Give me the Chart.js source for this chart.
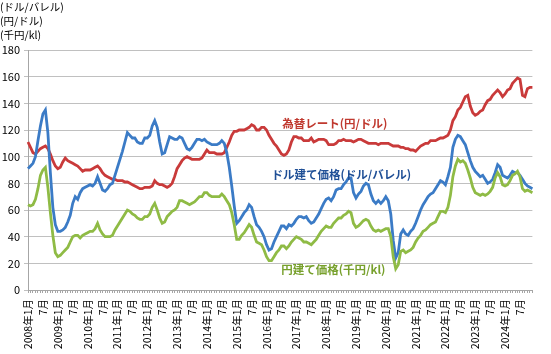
<!DOCTYPE html>
<html>
<head>
<meta charset="utf-8">
<script src="https://cdn.jsdelivr.net/npm/chart.js@4/dist/chart.umd.min.js"></script>
<style>
  html, body { margin: 0; padding: 0; background: #fff; }
  #wrap { width: 551px; height: 354px; }
</style>
</head>
<body>
<div id="wrap"><canvas id="chartOil" width="551" height="354"></canvas></div>
<script>
/* 原油価格・為替レートの推移 */

const years = [2008, 2009, 2010, 2011, 2012, 2013, 2014, 2015, 2016, 2017, 2018, 2019, 2020, 2021, 2022, 2023, 2024];

// ドル建て価格 (ドル/バレル)
const usdPrice = [
  91, 93, 95, 100, 112, 123, 132, 135, 118, 88, 62, 49,
  44, 44, 45, 47, 51, 56, 65, 70, 68, 73, 76, 77,
  78, 79, 78, 80, 85, 80, 75, 74, 76, 79, 80, 86,
  92, 98, 104, 111, 118, 116, 114, 114, 111, 110, 110, 114,
  114, 116, 123, 127, 122, 111, 102, 103, 109, 115, 114, 113,
  113, 115, 114, 110, 106, 105, 107, 110, 113, 113, 112, 113,
  111, 110, 109, 109, 109, 110, 112, 110, 103, 92, 78, 63,
  50, 52, 55, 58, 60, 64, 62, 55, 49, 47, 44, 40,
  34, 30, 31, 36, 40, 44, 48, 48, 46, 49, 48, 50,
  53, 55, 55, 54, 55, 52, 50, 51, 54, 57, 61, 65,
  68, 69, 67, 70, 75, 76, 76, 79, 81, 84, 84, 73,
  69, 72, 74, 78, 80, 79, 72, 67, 65, 67, 65, 67,
  70, 67, 57, 37, 24, 28, 42, 45, 42, 41, 44, 46,
  50, 55, 60, 64, 67, 70, 72, 73, 76, 79, 82, 81,
  79, 85, 92, 107, 113, 116, 115, 112, 109, 103, 97, 92,
  89, 87, 85, 86, 83, 80, 81, 83, 88, 94, 92, 86,
  85, 84, 86, 89, 88, 88, 86, 83, 80, 78, 77, 76,
];

// 為替レート (円/ドル)
const fxRate = [
  111, 107, 103, 102, 104, 106, 107, 108, 106, 102, 97, 93,
  91, 92, 96, 99, 97, 96, 95, 94, 93, 91, 89, 90,
  90, 90, 91, 92, 93, 91, 88, 86, 85, 84, 83, 83,
  82, 82, 82, 81, 81, 80, 79, 78, 77, 76, 76, 77,
  77, 77, 78, 82, 80, 79, 79, 78, 77, 78, 80, 85,
  91, 94, 97, 99, 100, 99, 98, 98, 98, 98, 99, 102,
  105, 103, 103, 103, 102, 102, 102, 103, 107, 111, 116, 119,
  119, 120, 120, 120, 121, 122, 124, 123, 120, 120, 122, 122,
  120, 116, 113, 110, 108, 105, 102, 101, 102, 105, 111, 115,
  115, 114, 114, 112, 112, 112, 114, 111, 112, 113, 113, 113,
  112, 109, 109, 109, 110, 112, 112, 113, 112, 112, 112, 111,
  112, 113, 113, 112, 111, 110, 110, 110, 110, 109, 110, 110,
  110, 110, 109, 108, 108, 108, 107, 107, 106, 106, 105, 105,
  104, 106, 108, 109, 110, 110, 112, 112, 112, 113, 114, 114,
  115, 116, 120, 127, 130, 135, 137, 141, 145, 146, 138, 133,
  131, 132, 134, 135, 139, 142, 143, 146, 148, 150, 148, 145,
  147, 150, 151, 155, 157, 159, 158, 146, 145, 151, 152, 152,
];

// 円建て価格 (千円/kl)
const yenPrice = [
  64, 63, 64, 68, 76, 86, 90, 92, 77, 58, 41, 28,
  25, 26, 28, 30, 32, 36, 40, 41, 41, 39, 41, 42,
  43, 44, 44, 46, 50, 45, 42, 40, 40, 40, 41, 45,
  48, 51, 54, 57, 60, 59, 57, 56, 54, 53, 53, 55,
  55, 57, 62, 65, 60, 54, 50, 51, 55, 57, 59, 60,
  62, 67, 67, 66, 65, 64, 65, 66, 68, 70, 70, 73,
  73, 71, 70, 70, 70, 70, 72, 70, 67, 64, 58, 49,
  38, 38, 41, 43, 46, 49, 47, 41, 36, 35, 34, 30,
  25, 22, 22, 25, 28, 30, 33, 33, 31, 33, 36, 38,
  40, 39, 38, 36, 36, 35, 34, 36, 38, 41, 44, 46,
  48, 47, 47, 50, 52, 54, 54, 56, 57, 59, 58, 50,
  47, 48, 50, 52, 53, 52, 48, 45, 44, 45, 44, 45,
  46, 46, 40, 25, 16, 19, 29, 30, 28, 29, 30, 32,
  36, 39, 41, 44, 45, 47, 49, 50, 51, 55, 59, 59,
  58, 62, 71, 85, 93, 98, 96, 97, 95, 90, 84, 77,
  73, 72, 71, 72, 71, 72, 74, 77, 84, 88, 85, 79,
  78, 79, 82, 86, 87, 89, 85, 76, 74, 75, 74, 73,
];

const unitLines = ['(ドル/バレル)', '(円/ドル)', '(千円/kl)'];

// 月ラベル: 1月と7月だけ表示
const months = [];
years.forEach((yr) => {
  for (let m = 1; m <= 12; m++) {
    if (m === 1) months.push(yr + '年1月');
    else if (m === 7) months.push('7月');
    else months.push('');
  }
});

const FONT = '"Noto Sans CJK JP", "Noto Sans", sans-serif';

// 系列名ラベル (位置はカテゴリ番号と値で指定)
const seriesLabels = [
  { text: '為替レート(円/ドル)', at: 102.3, value: 125, color: '#c0392f' },
  { text: 'ドル建て価格(ドル/バレル)', at: 98, value: 86.3, color: '#1f4f96' },
  { text: '円建て価格(千円/kl)', at: 101.9, value: 15, color: '#77a02c' },
];

const textPlugin = {
  id: 'textPlugin',
  afterDatasetsDraw(chart) {
    const { ctx } = chart;
    const x = chart.scales.x;
    const y = chart.scales.y;
    ctx.save();
    ctx.textBaseline = 'middle';
    ctx.textAlign = 'left';
    ctx.font = 'bold 11.5px ' + FONT;
    seriesLabels.forEach((l) => {
      ctx.fillStyle = l.color;
      ctx.fillText(l.text, x.getPixelForValue(l.at), y.getPixelForValue(l.value));
    });
    ctx.font = '10.5px ' + FONT;
    ctx.fillStyle = '#000';
    unitLines.forEach((t, i) => {
      ctx.fillText(t, 0, 7 + i * 14);
    });
    ctx.restore();
  },
};

const ctx = document.getElementById('chartOil').getContext('2d');
const chartOil = new Chart(ctx, {
  type: 'line',
  data: {
    labels: months,
    datasets: [
      {
        label: '円建て価格',
        data: yenPrice,
        borderColor: '#8fbb45',
        borderWidth: 2.8,
        pointRadius: 0,
      },
      {
        label: 'ドル建て価格',
        data: usdPrice,
        borderColor: '#3b7bc6',
        borderWidth: 2.8,
        pointRadius: 0,
      },
      {
        label: '為替レート',
        data: fxRate,
        borderColor: '#c93a3a',
        borderWidth: 2.8,
        pointRadius: 0,
      },
    ],
  },
  options: {
    responsive: false,
    animation: false,
    devicePixelRatio: 1,
    layout: {
      padding: { top: 50, right: 1, left: 0, bottom: 0 },
    },
    scales: {
      x: {
        offset: false,
        afterFit: (s) => { s.height = 64; },
        grid: {
          drawOnChartArea: false,
          tickLength: 3,
          color: '#a6a6a6',
        },
        border: { color: '#a6a6a6' },
        ticks: {
          autoSkip: false,
          maxRotation: 90,
          minRotation: 90,
          padding: 6,
          color: '#000',
          font: { family: FONT, size: 10.5 },
        },
      },
      y: {
        min: 0,
        max: 180,
        afterFit: (s) => { s.width = 28; },
        grid: {
          color: '#c0c0c0',
          tickLength: 4,
        },
        border: { color: '#a6a6a6' },
        ticks: {
          stepSize: 20,
          padding: 4,
          color: '#000',
          font: { family: FONT, size: 11 },
        },
      },
    },
    plugins: {
      legend: { display: false },
      tooltip: { enabled: false },
    },
  },
  plugins: [textPlugin],
});
</script>
</body>
</html>
